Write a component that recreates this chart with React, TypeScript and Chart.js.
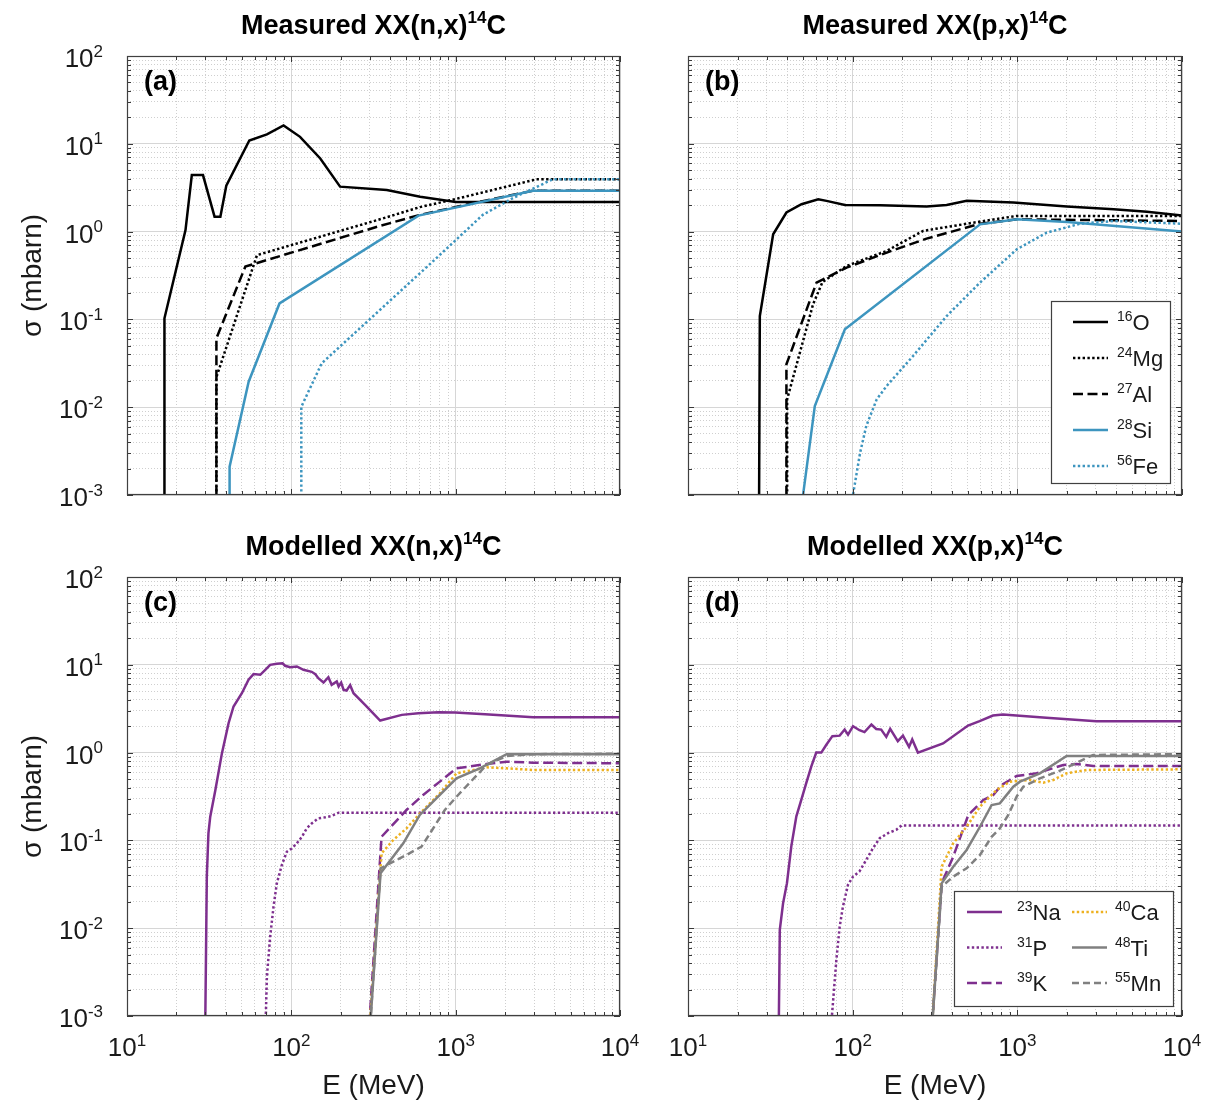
import React, { useEffect, useRef } from 'react';
import { Chart, registerables } from 'chart.js';

Chart.register(...registerables);

const FONT = '"Liberation Sans", Arial, Helvetica, sans-serif';

// ---------- axes ----------
const xMin = 10;
const xMax = 10000;
const yMin = 0.001;
const yMax = 100;
const xTickValues = [10, 100, 1000, 10000];
const xTickExponents = ['1', '2', '3', '4'];
const yTickValues = [100, 10, 1, 0.1, 0.01, 0.001];
const yTickExponents = ['2', '1', '0', '-1', '-2', '-3'];
const xAxisTitle = 'E (MeV)';
const yAxisTitle = 'σ (mbarn)';

// ---------- panel (a): Measured XX(n,x)14C ----------
const aO16E = [16.9, 16.9, 22.7, 24.8, 29.0, 34.1, 37.0, 40.2, 55.5, 71, 89.7, 113, 150, 198, 381, 608, 1000, 10000];
const aO16S = [0.0001, 0.103, 1.04, 4.4, 4.4, 1.48, 1.48, 3.33, 10.9, 12.8, 16.2, 12.0, 6.8, 3.25, 2.98, 2.5, 2.17, 2.17];
const aMg24E = [35, 35, 61.8, 346, 605, 1000, 3100, 10000];
const aMg24S = [0.0001, 0.022, 0.54, 1.38, 1.9, 2.35, 3.94, 3.94];
const aAl27E = [35, 35, 52.5, 346, 605, 1403, 2950, 10000];
const aAl27S = [0.0001, 0.061, 0.40, 1.16, 1.55, 2.19, 2.92, 2.92];
const aSi28E = [42.1, 42.1, 55, 84.7, 594, 2950, 10000];
const aSi28S = [0.0001, 0.0021, 0.0195, 0.152, 1.52, 2.92, 2.92];
const aFe56E = [115, 115, 153, 747, 1462, 2230, 3900, 10000];
const aFe56S = [0.0001, 0.0101, 0.0316, 0.48, 1.55, 2.41, 3.94, 3.94];

// ---------- panel (b): Measured XX(p,x)14C ----------
const bO16E = [26.9, 27.3, 32.9, 39.6, 48.9, 61.8, 69.4, 89.7, 146.6, 281, 372, 493, 946, 2000, 3845, 6128, 10000];
const bO16S = [0.0001, 0.109, 0.933, 1.65, 2.05, 2.34, 2.24, 2.01, 2.0, 1.93, 2.01, 2.24, 2.14, 1.93, 1.8, 1.68, 1.53];
const bMg24E = [40, 40, 47.8, 57.5, 65.6, 91.8, 161, 268, 594, 993, 10000];
const bMg24S = [0.0001, 0.0123, 0.0419, 0.149, 0.267, 0.406, 0.603, 1.02, 1.3, 1.51, 1.51];
const bAl27E = [39.6, 39.6, 60.3, 91.8, 161, 281, 594, 993, 10000];
const bAl27S = [0.0001, 0.0308, 0.262, 0.389, 0.577, 0.832, 1.23, 1.38, 1.32];
const bSi28E = [49.6, 58.9, 89.7, 594, 993, 2000, 10000];
const bSi28S = [0.0009, 0.0103, 0.0772, 1.21, 1.38, 1.29, 1.0];
const bFe56E = [99.5, 111, 121, 140, 161, 233, 372, 594, 993, 1510, 2410, 3845, 10000];
const bFe56S = [0.0009, 0.00304, 0.00612, 0.0123, 0.0175, 0.0384, 0.109, 0.263, 0.629, 0.974, 1.23, 1.32, 1.23];

// ---------- panel (c): Modelled XX(n,x)14C ----------
const cNa23E = [29.7, 30.6, 31.3, 32.1, 34.5, 37.8, 41.5, 44.5, 50, 54.9, 58.9, 64.7, 69.4, 74.3, 81.6, 88.4, 91.6, 98.4, 108, 118.5, 133, 140, 146, 157, 168, 176, 189, 194, 201, 208, 217, 228, 239, 281, 347, 470, 593, 785, 991, 1508, 2965, 10000];
const cNa23S = [0.0002, 0.0385, 0.12, 0.186, 0.375, 0.98, 2.16, 3.35, 4.75, 6.75, 7.83, 7.7, 8.77, 10, 10.3, 10.4, 9.75, 9.4, 9.57, 8.77, 8.32, 7.83, 7.05, 6.29, 7.23, 5.91, 6.46, 5.66, 6.28, 5.19, 5.1, 5.86, 4.75, 3.5, 2.32, 2.69, 2.81, 2.88, 2.86, 2.74, 2.53, 2.53];
const cP31E = [68.7, 71, 74.3, 77.9, 81.6, 87.5, 93.9, 100.7, 108, 116, 124, 133, 146, 161, 176, 194, 10000];
const cP31S = [0.0003, 0.00279, 0.00796, 0.0175, 0.0324, 0.0524, 0.0743, 0.081, 0.0925, 0.11, 0.137, 0.156, 0.178, 0.183, 0.19, 0.207, 0.207];
const cK39E = [298, 354, 502, 634, 801, 1011, 1542, 2041, 2965, 10000];
const cK39S = [0.0008, 0.11, 0.222, 0.329, 0.467, 0.662, 0.741, 0.789, 0.768, 0.756];
const cCa40E = [300, 354, 417, 502, 620, 801, 1011, 1542, 2041, 2965, 10000];
const cCa40S = [0.0008, 0.0713, 0.101, 0.137, 0.212, 0.343, 0.581, 0.679, 0.662, 0.634, 0.634];
const cTi48E = [302, 349, 480, 605, 729, 1011, 1403, 2041, 10000];
const cTi48S = [0.0008, 0.0422, 0.0927, 0.195, 0.276, 0.509, 0.662, 0.96, 0.96];
const cMn55E = [302, 349, 502, 620, 859, 1035, 1542, 2041, 2965, 10000];
const cMn55S = [0.0008, 0.0481, 0.0683, 0.0849, 0.222, 0.329, 0.723, 0.914, 0.96, 0.97];

// ---------- panel (d): Modelled XX(p,x)14C ----------
const dNa23E = [35.5, 36.1, 37.8, 39.9, 42.4, 45.5, 48.8, 52.3, 56.1, 60.1, 64.5, 69.2, 75.3, 83.4, 89.4, 93.7, 100.5, 110, 118, 130, 139, 149, 160, 169, 188, 202, 220, 230, 249, 354, 502, 590, 711, 818, 986, 1500, 3020, 10000];
const dNa23S = [0.0005, 0.00957, 0.0193, 0.0326, 0.0855, 0.188, 0.291, 0.451, 0.698, 1.0, 1.0, 1.23, 1.54, 1.56, 1.83, 1.6, 2.0, 1.8, 1.71, 2.09, 1.86, 1.83, 1.51, 1.86, 1.35, 1.56, 1.16, 1.41, 1.0, 1.27, 2.03, 2.28, 2.64, 2.71, 2.64, 2.49, 2.28, 2.28];
const dP31E = [74.1, 76.7, 79.6, 83.4, 87.3, 93.7, 100.5, 110, 121, 133, 146, 164, 184, 198, 10000];
const dP31S = [0.0008, 0.00181, 0.00435, 0.0104, 0.0177, 0.0312, 0.0388, 0.0443, 0.0602, 0.0818, 0.106, 0.121, 0.132, 0.148, 0.148];
const dK39E = [304, 347, 408, 504, 621, 714, 802, 990, 1310, 1901, 2291, 2890, 10000];
const dK39S = [0.0008, 0.0324, 0.0653, 0.195, 0.288, 0.329, 0.428, 0.541, 0.581, 0.723, 0.741, 0.703, 0.703];
const dCa40E = [304, 347, 408, 492, 593, 748, 902, 1194, 1436, 1652, 1991, 2635, 10000];
const dCa40S = [0.0008, 0.0502, 0.0927, 0.143, 0.242, 0.375, 0.467, 0.488, 0.454, 0.488, 0.581, 0.634, 0.645];
const dTi48E = [304, 347, 408, 492, 593, 698, 783, 945, 1038, 1371, 1991, 10000];
const dTi48S = [0.0008, 0.0324, 0.0502, 0.0778, 0.143, 0.253, 0.264, 0.409, 0.467, 0.581, 0.914, 0.914];
const dMn55E = [304, 347, 408, 492, 593, 698, 783, 881, 990, 1087, 1371, 1814, 2890, 10000];
const dMn55S = [0.0008, 0.0297, 0.0387, 0.0481, 0.0683, 0.11, 0.137, 0.195, 0.315, 0.409, 0.509, 0.622, 0.94, 0.96];

// ---------- labels ----------
const measuredMass = ['16', '24', '27', '28', '56'];
const measuredSymbol = ['O', 'Mg', 'Al', 'Si', 'Fe'];
const modelledMass = ['23', '31', '39', '40', '48', '55'];
const modelledSymbol = ['Na', 'P', 'K', 'Ca', 'Ti', 'Mn'];

// ---------- styles ----------
const BLACK = '#000000';
const BLUE = '#3D95BF';
const PURPLE = '#7E2F8E';
const ORANGE = '#EDB120';
const GRAY = '#808080';
const SOLID: number[] = [];
const DOT = [2.4, 2.4];
const DASH = [10, 4.5];
const DASH_SHORT = [7, 4];
const LINE_W = 2.5;

type Style = { color: string; dash: number[] };
const measuredStyles: Style[] = [
  { color: BLACK, dash: SOLID },
  { color: BLACK, dash: DOT },
  { color: BLACK, dash: DASH },
  { color: BLUE, dash: SOLID },
  { color: BLUE, dash: DOT },
];
const modelledStyles: Style[] = [
  { color: PURPLE, dash: SOLID },
  { color: PURPLE, dash: DOT },
  { color: PURPLE, dash: DASH },
  { color: ORANGE, dash: DOT },
  { color: GRAY, dash: SOLID },
  { color: GRAY, dash: DASH_SHORT },
];

type Panel = {
  key: string;
  left: number;
  top: number;
  width: number;
  height: number;
  pad: { left: number; right: number; top: number; bottom: number };
  titleParts: [string, boolean][];
  letter: string;
  E: number[][];
  S: number[][];
  mass: string[];
  symbol: string[];
  styles: Style[];
  yLabels: boolean;
  xLabels: boolean;
  legend: null | { cols: number; width: number; height: number; right: number; bottom: number };
};

const panels: Panel[] = [
  {
    key: 'a', left: 0, top: 0, width: 640, height: 540,
    pad: { left: 127, right: 20, top: 56, bottom: 45 },
    titleParts: [['Measured XX(n,x)', false], ['14', true], ['C', false]],
    letter: '(a)',
    E: [aO16E, aMg24E, aAl27E, aSi28E, aFe56E],
    S: [aO16S, aMg24S, aAl27S, aSi28S, aFe56S],
    mass: measuredMass, symbol: measuredSymbol, styles: measuredStyles,
    yLabels: true, xLabels: false, legend: null,
  },
  {
    key: 'b', left: 640, top: 0, width: 573, height: 540,
    pad: { left: 48, right: 31, top: 56, bottom: 45 },
    titleParts: [['Measured XX(p,x)', false], ['14', true], ['C', false]],
    letter: '(b)',
    E: [bO16E, bMg24E, bAl27E, bSi28E, bFe56E],
    S: [bO16S, bMg24S, bAl27S, bSi28S, bFe56S],
    mass: measuredMass, symbol: measuredSymbol, styles: measuredStyles,
    yLabels: false, xLabels: false,
    legend: { cols: 1, width: 119, height: 182, right: 12, bottom: 12 },
  },
  {
    key: 'c', left: 0, top: 500, width: 640, height: 602,
    pad: { left: 127, right: 20, top: 77, bottom: 86 },
    titleParts: [['Modelled XX(n,x)', false], ['14', true], ['C', false]],
    letter: '(c)',
    E: [cNa23E, cP31E, cK39E, cCa40E, cTi48E, cMn55E],
    S: [cNa23S, cP31S, cK39S, cCa40S, cTi48S, cMn55S],
    mass: modelledMass, symbol: modelledSymbol, styles: modelledStyles,
    yLabels: true, xLabels: true, legend: null,
  },
  {
    key: 'd', left: 640, top: 500, width: 573, height: 602,
    pad: { left: 48, right: 31, top: 77, bottom: 86 },
    titleParts: [['Modelled XX(p,x)', false], ['14', true], ['C', false]],
    letter: '(d)',
    E: [dNa23E, dP31E, dK39E, dCa40E, dTi48E, dMn55E],
    S: [dNa23S, dP31S, dK39S, dCa40S, dTi48S, dMn55S],
    mass: modelledMass, symbol: modelledSymbol, styles: modelledStyles,
    yLabels: false, xLabels: true,
    legend: { cols: 2, width: 219, height: 115, right: 9, bottom: 10 },
  },
];

// ---------- helpers ----------
function drawRich(
  ctx: CanvasRenderingContext2D,
  parts: [string, boolean][],
  x: number,
  y: number,
  size: number,
  bold: boolean,
  align: 'left' | 'center' | 'right',
  color = '#000',
) {
  const supSize = Math.round(size * 0.64);
  const fN = `${bold ? 'bold ' : ''}${size}px ${FONT}`;
  const fS = `${bold ? 'bold ' : ''}${supSize}px ${FONT}`;
  const widths: number[] = [];
  let total = 0;
  for (const [t, sup] of parts) {
    ctx.font = sup ? fS : fN;
    const w = ctx.measureText(t).width;
    widths.push(w);
    total += w;
  }
  let cx = align === 'center' ? x - total / 2 : align === 'right' ? x - total : x;
  ctx.textAlign = 'left';
  ctx.textBaseline = 'alphabetic';
  ctx.fillStyle = color;
  parts.forEach(([t, sup], i) => {
    ctx.font = sup ? fS : fN;
    ctx.fillText(t, cx, sup ? y - size * 0.4 : y);
    cx += widths[i];
  });
}

function logTicks(min: number, max: number) {
  const out: { value: number; major: boolean }[] = [];
  const lo = Math.floor(Math.log10(min));
  const hi = Math.ceil(Math.log10(max));
  for (let e = lo; e <= hi; e++) {
    for (let m = 1; m <= 9; m++) {
      const v = m * Math.pow(10, e);
      if (v >= min * 0.999 && v <= max * 1.001) out.push({ value: v, major: m === 1 });
    }
  }
  return out;
}

function makeDecor(p: Panel) {
  return {
    id: 'decor_' + p.key,
    afterDatasetsDraw(chart: any) {
      const ctx: CanvasRenderingContext2D = chart.ctx;
      const ca = chart.chartArea;
      const xs = chart.scales.x;
      const ys = chart.scales.y;
      ctx.save();

      // inward tick marks
      ctx.strokeStyle = '#383838';
      ctx.lineWidth = 1;
      ctx.setLineDash([]);
      ctx.beginPath();
      for (const t of ys.ticks) {
        const y = Math.round(ys.getPixelForValue(t.value)) + 0.5;
        const L = t.major ? 6 : 4;
        ctx.moveTo(ca.left, y); ctx.lineTo(ca.left + L, y);
        ctx.moveTo(ca.right, y); ctx.lineTo(ca.right - L, y);
      }
      for (const t of xs.ticks) {
        const x = Math.round(xs.getPixelForValue(t.value)) + 0.5;
        const L = t.major ? 6 : 4;
        ctx.moveTo(x, ca.bottom); ctx.lineTo(x, ca.bottom - L);
        ctx.moveTo(x, ca.top); ctx.lineTo(x, ca.top + L);
      }
      ctx.stroke();

      // box
      ctx.strokeStyle = '#404040';
      ctx.lineWidth = 1.2;
      ctx.strokeRect(ca.left + 0.5, ca.top + 0.5, ca.right - ca.left - 1, ca.bottom - ca.top - 1);

      // panel letter
      ctx.fillStyle = '#000';
      ctx.font = `bold 27px ${FONT}`;
      ctx.textAlign = 'left';
      ctx.textBaseline = 'alphabetic';
      ctx.fillText(p.letter, ca.left + 17, ca.top + 34);

      // title
      drawRich(ctx, p.titleParts, (ca.left + ca.right) / 2, ca.top - 22, 27, true, 'center');

      // y tick labels
      if (p.yLabels) {
        yTickValues.forEach((v, i) => {
          const y = ys.getPixelForValue(v);
          drawRich(ctx, [['10', false], [yTickExponents[i], true]], ca.left - 24, y + 11, 26, false, 'right', '#1a1a1a');
        });
        ctx.save();
        ctx.translate(ca.left - 94, (ca.top + ca.bottom) / 2);
        ctx.rotate(-Math.PI / 2);
        ctx.font = `28px ${FONT}`;
        ctx.fillStyle = '#1a1a1a';
        ctx.textAlign = 'center';
        ctx.textBaseline = 'middle';
        ctx.fillText(yAxisTitle, 0, 0);
        ctx.restore();
      }

      // x tick labels
      if (p.xLabels) {
        xTickValues.forEach((v, i) => {
          const x = xs.getPixelForValue(v);
          drawRich(ctx, [['10', false], [xTickExponents[i], true]], x, ca.bottom + 40, 26, false, 'center', '#1a1a1a');
        });
        ctx.font = `28px ${FONT}`;
        ctx.fillStyle = '#1a1a1a';
        ctx.textAlign = 'center';
        ctx.textBaseline = 'alphabetic';
        ctx.fillText(xAxisTitle, (ca.left + ca.right) / 2, ca.bottom + 78);
      }

      // legend
      if (p.legend) {
        const lg = p.legend;
        const bx = ca.right - lg.right - lg.width;
        const by = ca.bottom - lg.bottom - lg.height;
        ctx.fillStyle = '#ffffff';
        ctx.fillRect(bx, by, lg.width, lg.height);
        ctx.strokeStyle = '#404040';
        ctx.lineWidth = 1.2;
        ctx.setLineDash([]);
        ctx.strokeRect(bx + 0.5, by + 0.5, lg.width, lg.height);
        const rows = Math.ceil(p.mass.length / lg.cols);
        const rowGap = lg.cols === 1 ? 36 : 35.5;
        const firstRow = 21;
        p.mass.forEach((m, i) => {
          const col = Math.floor(i / rows);
          const row = i % rows;
          const colX = lg.cols === 1 ? 22 : col === 0 ? 13 : 118;
          const sx = bx + colX;
          const sy = by + firstRow + row * rowGap;
          const st = p.styles[i];
          ctx.strokeStyle = st.color;
          ctx.lineWidth = LINE_W;
          ctx.setLineDash(st.dash);
          ctx.beginPath();
          ctx.moveTo(sx, sy);
          ctx.lineTo(sx + 35, sy);
          ctx.stroke();
          ctx.setLineDash([]);
          const tx = lg.cols === 1 ? bx + 66 : col === 0 ? bx + 63 : bx + 161;
          drawRich(ctx, [[m, true], [p.symbol[i], false]], tx, sy + 8, 22, false, 'left', '#1a1a1a');
        });
      }
      ctx.restore();
    },
  };
}

function gridColor(c: any) {
  return c.tick && c.tick.major ? '#d6d6d6' : '#cfcfcf';
}
function gridDash(c: any) {
  return c.tick && c.tick.major ? [] : [1, 2];
}

function PanelChart({ p }: { p: Panel }) {
  const ref = useRef<HTMLCanvasElement | null>(null);
  useEffect(() => {
    if (!ref.current) return;
    const n = p.E.length;
    const datasets = p.E.map((E, i) => ({
      label: p.mass[i] + p.symbol[i],
      data: E.map((e, j) => ({ x: e, y: p.S[i][j] })),
      borderColor: p.styles[i].color,
      backgroundColor: p.styles[i].color,
      borderDash: p.styles[i].dash,
      borderWidth: LINE_W,
      pointRadius: 0,
      fill: false,
      tension: 0,
      order: n - i,
    }));
    const chart = new Chart(ref.current, {
      type: 'line',
      data: { datasets },
      options: {
        animation: false,
        responsive: false,
        maintainAspectRatio: false,
        events: [],
        layout: { padding: p.pad },
        plugins: {
          legend: { display: false },
          title: { display: false },
          tooltip: { enabled: false },
        },
        scales: {
          x: {
            type: 'logarithmic',
            min: xMin,
            max: xMax,
            ticks: { display: false },
            grid: { color: gridColor, lineWidth: 1, drawTicks: false },
            border: { display: false, dash: gridDash },
            afterBuildTicks: (s: any) => { s.ticks = logTicks(xMin, xMax); },
            afterFit: (s: any) => { s.height = 0; },
          },
          y: {
            type: 'logarithmic',
            min: yMin,
            max: yMax,
            ticks: { display: false },
            grid: { color: gridColor, lineWidth: 1, drawTicks: false },
            border: { display: false, dash: gridDash },
            afterBuildTicks: (s: any) => { s.ticks = logTicks(yMin, yMax); },
            afterFit: (s: any) => { s.width = 0; },
          },
        },
      } as any,
      plugins: [makeDecor(p)],
    });
    return () => chart.destroy();
  }, [p]);
  return (
    <div style={{ position: 'absolute', left: p.left, top: p.top, width: p.width, height: p.height }}>
      <canvas ref={ref} width={p.width} height={p.height} style={{ width: p.width, height: p.height, display: 'block' }} />
    </div>
  );
}

export default function App() {
  return (
    <div style={{ position: 'absolute', left: 0, top: 0, width: 1213, height: 1102, background: '#ffffff', fontFamily: FONT }}>
      {panels.map((p) => (
        <PanelChart key={p.key} p={p} />
      ))}
    </div>
  );
}
